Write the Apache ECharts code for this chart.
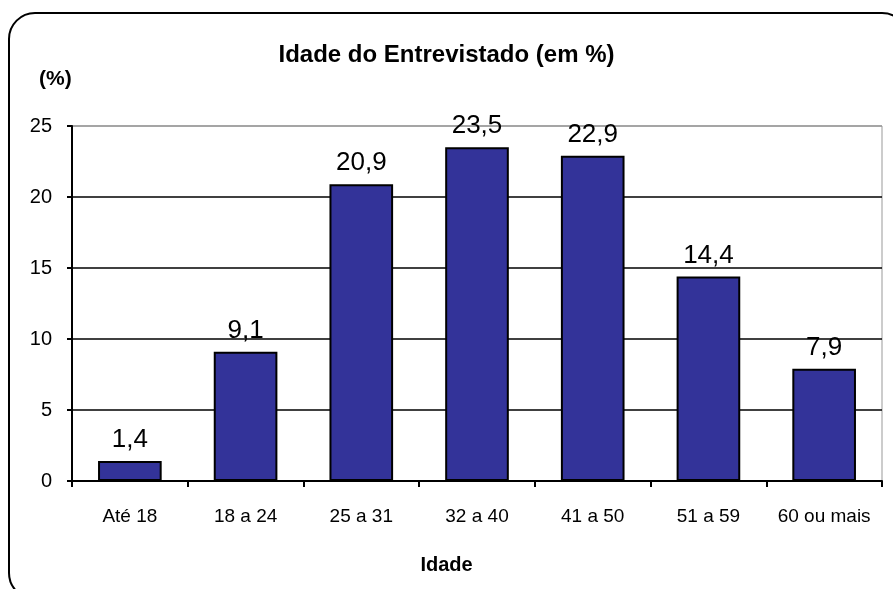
<!DOCTYPE html>
<html>
<head>
    <meta charset="utf-8">
    <title>Idade do Entrevistado</title>
    <script src="https://cdn.jsdelivr.net/npm/echarts@6/dist/echarts.min.js"></script>
</head>
<body style="margin:0;background:#fff">
<div id="main" style="width:893px;height:589px"></div>
<script type="text/javascript">
    // faixas etárias e percentuais
    var faixas = ['Até 18', '18 a 24', '25 a 31', '32 a 40', '41 a 50', '51 a 59', '60 ou mais'];
    var percentuais = [1.4, 9.1, 20.9, 23.5, 22.9, 14.4, 7.9];

    var myChart = echarts.init(document.getElementById('main'));
    var fonte = 'Liberation Sans, Arial, sans-serif';

    var option = {
        backgroundColor: '#fff',
        animation: false,
        title: {
            text: 'Idade do Entrevistado (em %)',
            left: 'center',
            top: 38,
            textStyle: {fontFamily: fonte, fontSize: 24, fontWeight: 'bold', color: '#000'}
        },
        graphic: [
            {
                type: 'rect',
                shape: {x: 9, y: 13, width: 899, height: 586, r: 26},
                style: {fill: 'none', stroke: '#000', lineWidth: 2},
                silent: true
            },
            {
                type: 'text', left: 39, top: 69,
                style: {text: '(%)', font: 'bold 21px ' + fonte, fill: '#000'}
            },
            {
                type: 'text', left: 'center', top: 555,
                style: {text: 'Idade', font: 'bold 20px ' + fonte, fill: '#000'}
            }
        ],
        grid: {left: 72, right: 11, top: 126, bottom: 108, show: true, borderColor: '#999', borderWidth: 1},
        xAxis: {
            type: 'category',
            data: faixas,
            axisLine: {lineStyle: {color: '#000', width: 2}},
            axisTick: {show: true, length: 6, inside: false, lineStyle: {color: '#000', width: 2}},
            axisLabel: {color: '#000', fontFamily: fonte, fontSize: 19, margin: 26, interval: 0}
        },
        yAxis: {
            type: 'value',
            min: 0,
            max: 25,
            interval: 5,
            axisLine: {show: true, lineStyle: {color: '#000', width: 2}},
            axisTick: {show: true, length: 5, lineStyle: {color: '#000', width: 2}},
            axisLabel: {color: '#000', fontFamily: fonte, fontSize: 20, margin: 20},
            splitLine: {show: true, lineStyle: {color: ['#000', '#000', '#000', '#000', '#000', '#999'], width: 1.5}}
        },
        series: [
            {
                type: 'bar',
                data: percentuais,
                barWidth: '55%',
                itemStyle: {color: '#333399', borderColor: '#000', borderWidth: 2},
                label: {
                    show: true,
                    position: 'top',
                    distance: 8,
                    color: '#000',
                    fontFamily: fonte,
                    fontSize: 26,
                    formatter: function (p) {
                        return String(p.value).replace('.', ',');
                    }
                }
            }
        ]
    };

    myChart.setOption(option);
</script>
</body>
</html>
